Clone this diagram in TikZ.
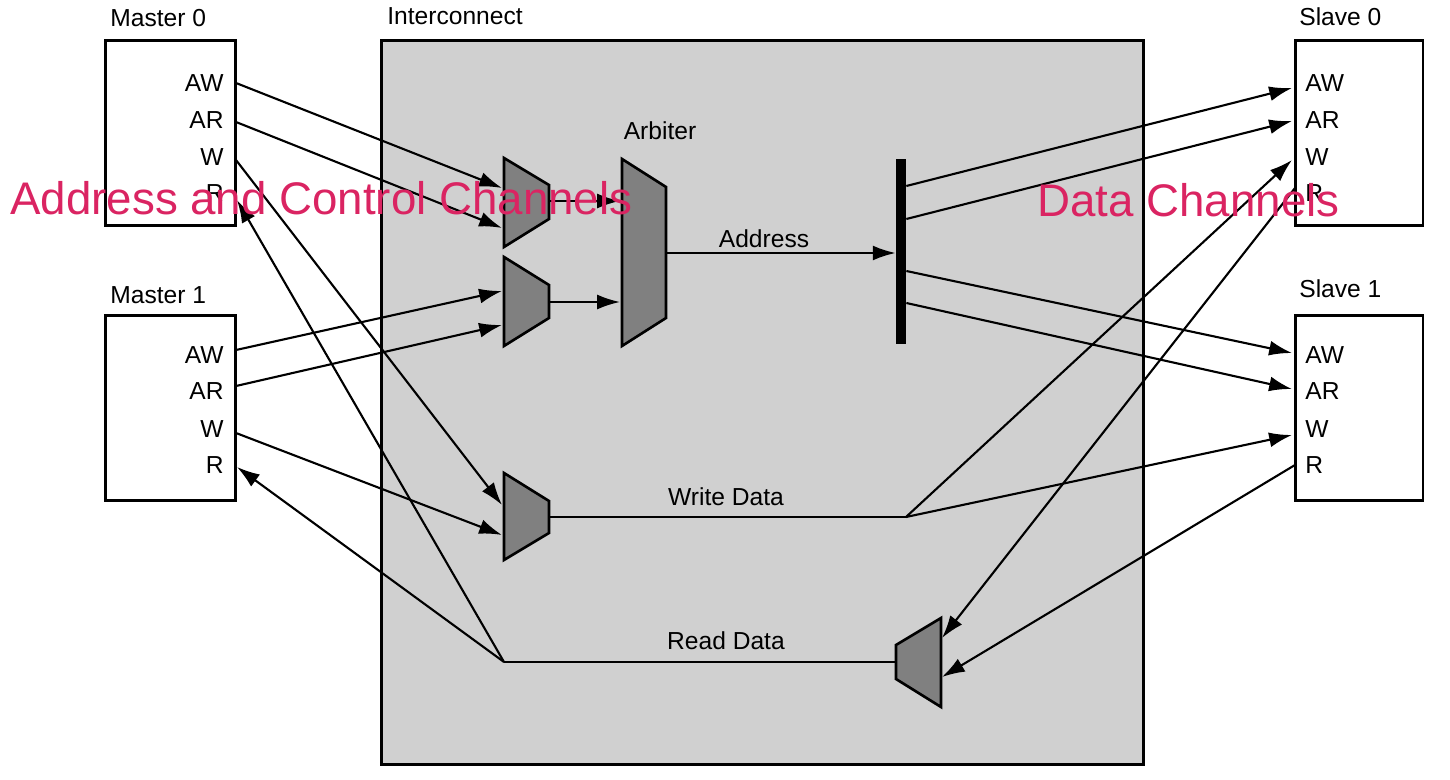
\documentclass[tikz,border=0pt]{standalone}
\usepackage{fontspec}
\setmainfont{Liberation Sans}
\usetikzlibrary{arrows.meta}
\definecolor{notecolor}{RGB}{218,36,98}
\definecolor{icfill}{RGB}{208,208,208}
\definecolor{muxfill}{RGB}{128,128,128}

\begin{document}
\begin{tikzpicture}[x=0.02cm,y=-0.02cm,
  unit/.style={draw, line width=1.7pt, fill=white, inner sep=0pt, minimum width=2.6cm, minimum height=3.7cm},
  muxshape/.style={draw, line width=1.5pt, fill=muxfill, line join=miter},
  wire/.style={line width=1.2pt},
  sig/.style={wire, -{Latex[length=13pt,width=8.5pt]}},
  lbl/.style={font=\fontsize{14}{16}\selectfont, inner sep=0pt},
  note/.style={font=\fontsize{26}{30}\selectfont, text=notecolor, inner sep=0pt, anchor=west}]
\useasboundingbox (0,0) rectangle (1450,780);
\node[draw, line width=1.7pt, fill=icfill, inner sep=0pt, minimum width=15.26cm, minimum height=14.5cm] (ic) at (762.5,402.5) {};
\node[lbl, anchor=west] (iclbl) at (387,16) {Interconnect};
\node[unit] (master0) at (170.5,133) {};
\node[unit] (master1) at (170.5,408) {};
\node[unit, minimum width=2.56cm] (slave0) at (1359,133) {};
\node[unit, minimum width=2.56cm] (slave1) at (1359,408) {};
\node[lbl, anchor=west] (m0lbl) at (110,18) {Master 0};
\node[lbl, anchor=west] (m1lbl) at (110,295) {Master 1};
\node[lbl, anchor=west] (s0lbl) at (1299,17) {Slave 0};
\node[lbl, anchor=west] (s1lbl) at (1299,289) {Slave 1};
\node[lbl, anchor=east] (m0awl) at (224,83) {AW};
\node[lbl, anchor=east] (m0arl) at (224,120) {AR};
\node[lbl, anchor=east] (m0wl) at (224,157) {W};
\node[lbl, anchor=east] (m0rl) at (224,193) {R};
\node[lbl, anchor=east] (m1awl) at (224,355) {AW};
\node[lbl, anchor=east] (m1arl) at (224,391) {AR};
\node[lbl, anchor=east] (m1wl) at (224,429) {W};
\node[lbl, anchor=east] (m1rl) at (224,465) {R};
\node[lbl, anchor=west] (s0awl) at (1305,83) {AW};
\node[lbl, anchor=west] (s0arl) at (1305,120) {AR};
\node[lbl, anchor=west] (s0wl) at (1305,157) {W};
\node[lbl, anchor=west] (s0rl) at (1305,193) {R};
\node[lbl, anchor=west] (s1awl) at (1305,355) {AW};
\node[lbl, anchor=west] (s1arl) at (1305,391) {AR};
\node[lbl, anchor=west] (s1wl) at (1305,429) {W};
\node[lbl, anchor=west] (s1rl) at (1305,465) {R};
\coordinate (m0aw) at (236,83);
\coordinate (m0ar) at (236,122);
\coordinate (m0w) at (236,160);
\coordinate (m0r) at (237,200);
\coordinate (m1aw) at (236,350);
\coordinate (m1ar) at (236,386);
\coordinate (m1w) at (236,433);
\coordinate (m1r) at (237,467);
\coordinate (s0aw) at (1292,88);
\coordinate (s0ar) at (1292,121);
\coordinate (s0w) at (1292,160);
\coordinate (s0r) at (1295,188);
\coordinate (s1aw) at (1292,353);
\coordinate (s1ar) at (1292,389);
\coordinate (s1w) at (1292,435);
\coordinate (s1r) at (1295,465);
\draw[muxshape] (504,158) -- (549,185) -- (549,219) -- (504,247) -- cycle;
\draw[muxshape] (504,257) -- (549,285) -- (549,318) -- (504,346) -- cycle;
\draw[muxshape] (622,159) -- (666,187) -- (666,318) -- (622,346) -- cycle;
\draw[muxshape] (504,473) -- (549,501) -- (549,533) -- (504,560) -- cycle;
\draw[muxshape] (941,618) -- (896,645) -- (896,679) -- (941,707) -- cycle;
\node[fill=black, inner sep=0pt, minimum width=0.2cm, minimum height=3.7cm] (bar) at (901,251.5) {};
\coordinate (mxa1) at (502,188);
\coordinate (mxa2) at (502,228);
\coordinate (mxaout) at (549,201);
\coordinate (mxb1) at (502,291);
\coordinate (mxb2) at (502,325);
\coordinate (mxbout) at (549,302);
\coordinate (arb1) at (620,201);
\coordinate (arb2) at (620,302);
\coordinate (arbout) at (666,253);
\coordinate (wmx1) at (502,505);
\coordinate (wmx2) at (502,535);
\coordinate (wmxout) at (549,517);
\coordinate (wjunc) at (906,517);
\coordinate (rmx1) at (942,638);
\coordinate (rmx2) at (942,677);
\coordinate (rmxout) at (896,662);
\coordinate (rjunc) at (504,662);
\node[lbl] (arblbl) at (660,131) {Arbiter};
\node[lbl] (addrlbl) at (764,239) {Address};
\node[lbl] (wdlbl) at (726,497) {Write Data};
\node[lbl] (rdlbl) at (726,641) {Read Data};
\draw[sig] (m0aw) -- (mxa1);
\draw[sig] (m0ar) -- (mxa2);
\draw[sig] (m1aw) -- (mxb1);
\draw[sig] (m1ar) -- (mxb2);
\draw[sig] (mxaout) -- (arb1);
\draw[sig] (mxbout) -- (arb2);
\draw[sig] (arbout) -- (bar.west |- arbout);
\draw[sig] (bar.east |- 0,186) -- (s0aw);
\draw[sig] (bar.east |- 0,219) -- (s0ar);
\draw[sig] (bar.east |- 0,271) -- (s1aw);
\draw[sig] (bar.east |- 0,303) -- (s1ar);
\draw[sig] (m0w) -- (wmx1);
\draw[sig] (m1w) -- (wmx2);
\draw[wire] (wmxout) -- (wjunc);
\draw[sig] (wjunc) -- (s0w);
\draw[sig] (wjunc) -- (s1w);
\draw[sig] (s0r) -- (rmx1);
\draw[sig] (s1r) -- (rmx2);
\draw[wire] (rmxout) -- (rjunc);
\draw[sig] (rjunc) -- (m0r);
\draw[sig] (rjunc) -- (m1r);
\node[note] (acnote) at (10,198) {Address and Control Channels};
\node[note] (dcnote) at (1037,200) {Data Channels};
\end{tikzpicture}
\end{document}
